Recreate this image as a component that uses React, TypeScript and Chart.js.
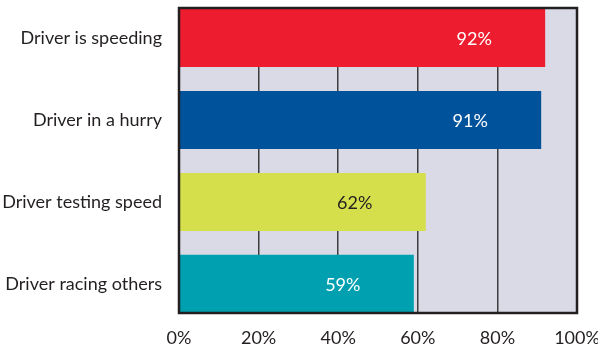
import React, { useEffect, useRef } from "react";
import { Chart, registerables } from "chart.js";

Chart.register(...registerables);

const CATEGORIES = [
  "Driver is speeding",
  "Driver in a hurry",
  "Driver testing speed",
  "Driver racing others",
];
const VALUES = [92, 91, 62, 59];
const BAR_COLORS = ["#ed1c2e", "#00529b", "#d5df4c", "#00a0b0"];
const LABEL_COLORS = ["#ffffff", "#ffffff", "#231f20", "#ffffff"];
const X_TICKS = [0, 20, 40, 60, 80, 100];

const FONT = "Lato, 'DejaVu Sans', sans-serif";

const framePlugin = {
  id: "frame",
  beforeDraw(chart: any) {
    const { ctx, chartArea } = chart;
    ctx.save();
    ctx.fillStyle = "#d9dae6";
    ctx.fillRect(chartArea.left, chartArea.top, chartArea.right - chartArea.left, chartArea.bottom - chartArea.top);
    ctx.restore();
  },
  afterDatasetsDraw(chart: any) {
    const { ctx } = chart;
    const meta = chart.getDatasetMeta(0);
    ctx.save();
    ctx.font = `18px ${FONT}`;
    ctx.textAlign = "center";
    ctx.textBaseline = "middle";
    meta.data.forEach((bar: any, i: number) => {
      ctx.fillStyle = LABEL_COLORS[i];
      ctx.fillText(`${VALUES[i]}%`, bar.x - 71, bar.y + 1);
    });
    ctx.restore();
  },
  afterDraw(chart: any) {
    const { ctx, chartArea } = chart;
    ctx.save();
    ctx.strokeStyle = "#231f20";
    ctx.lineWidth = 2.5;
    ctx.strokeRect(chartArea.left, chartArea.top, chartArea.right - chartArea.left, chartArea.bottom - chartArea.top);
    ctx.restore();
  },
};

export default function App() {
  const ref = useRef<HTMLCanvasElement | null>(null);

  useEffect(() => {
    if (!ref.current) return;
    const chart = new Chart(ref.current, {
      type: "bar",
      data: {
        datasets: [
          {
            data: VALUES.map((v, i) => ({ x: v, y: i })),
            backgroundColor: BAR_COLORS,
            borderWidth: 0,
            barPercentage: 0.71,
            categoryPercentage: 1,
          },
        ],
      },
      plugins: [framePlugin],
      options: {
        indexAxis: "y",
        animation: false,
        responsive: false,
        layout: { padding: { top: 8, right: 21, left: 0, bottom: 0 } },
        plugins: { legend: { display: false }, tooltip: { enabled: false } },
        scales: {
          x: {
            type: "linear",
            min: 0,
            max: 100,
            offset: false,
            afterBuildTicks: (s: any) => {
              s.ticks = X_TICKS.map((v) => ({ value: v }));
            },
            afterFit: (s: any) => {
              s.height = 34;
              s.paddingLeft = 0;
              s.paddingRight = 0;
            },
            ticks: {
              callback: (v: any) => `${v}%`,
              color: "#231f20",
              font: { family: FONT, size: 18 },
              padding: 14,
              maxRotation: 0,
            },
            grid: { color: "#3d3d3d", lineWidth: 1.5, drawTicks: false, offset: false },
            border: { display: false },
          },
          y: {
            type: "linear",
            reverse: true,
            min: -0.366,
            max: 3.354,
            offset: false,
            afterBuildTicks: (s: any) => {
              s.ticks = CATEGORIES.map((_, i) => ({ value: i }));
            },
            afterFit: (s: any) => {
              s.width = 179;
              s.paddingTop = 0;
              s.paddingBottom = 0;
            },
            ticks: {
              callback: (v: any) => CATEGORIES[v] ?? "",
              color: "#231f20",
              font: { family: FONT, size: 18 },
              padding: 17,
            },
            grid: { display: false, drawTicks: false, offset: false },
            border: { display: false },
          },
        },
      },
    });
    return () => chart.destroy();
  }, []);

  return (
    <div style={{ position: "fixed", left: 0, top: 0, width: 598, height: 347, background: "#ffffff" }}>
      <canvas ref={ref} width={598} height={347} style={{ display: "block" }} />
    </div>
  );
}
